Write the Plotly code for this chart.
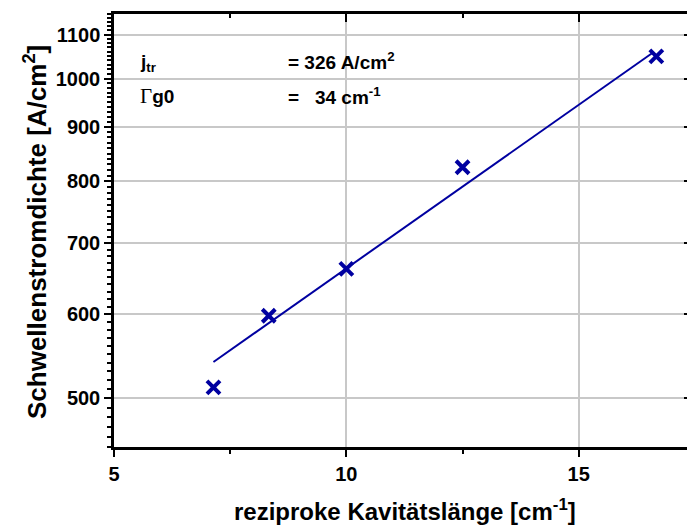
import plotly.graph_objects as go
import math

# data
x_meas = [7.14, 8.33, 10.0, 12.5, 16.67]
y_meas = [512, 598, 662, 825, 1049]
fit_x = [7.14, 16.6]
fit_y = [541, 1058]
y_ticks = [500, 600, 700, 800, 900, 1000, 1100]
y_minor = list(range(450, 1151, 10))
x_ticks = [5, 10, 15]
x_minor = [7.5, 12.5, 17.5]

BLUE = "#0000a0"
FONT = "Liberation Sans, Arial, sans-serif"

fig = go.Figure()
fig.add_trace(go.Scatter(x=fit_x, y=fit_y, mode="lines",
                         line=dict(color=BLUE, width=2), showlegend=False, hoverinfo="skip"))
fig.add_trace(go.Scatter(x=x_meas, y=y_meas, mode="markers",
                         marker=dict(symbol="x-thin", size=13, line=dict(color=BLUE, width=4)),
                         showlegend=False))
# dummy trace for mirrored axes
fig.add_trace(go.Scatter(x=[x_meas[0]], y=[y_meas[0]], xaxis="x2", yaxis="y2",
                         mode="markers", marker=dict(opacity=0), showlegend=False, hoverinfo="skip"))

xr = [5, 17.33]
yr = [math.log10(450), math.log10(1150)]

fig.update_layout(
    width=687, height=525,
    margin=dict(l=114, r=0, t=14, b=78, autoexpand=False),
    paper_bgcolor="white", plot_bgcolor="white",
    font=dict(family=FONT, color="black"),
    xaxis=dict(range=xr, tickvals=x_ticks, ticktext=["<b>%d</b>" % v for v in x_ticks],
               automargin=False,
               showgrid=True, gridcolor="#c8c8c8", gridwidth=1.5,
               showline=True, linecolor="black", linewidth=2.5,
               ticks="outside", ticklen=7, tickwidth=2, tickcolor="black",
               tickfont=dict(size=20, family=FONT),
               minor=dict(tickmode="array", tickvals=x_minor, ticks="outside",
                          ticklen=4, tickwidth=2, tickcolor="black", showgrid=False),
               zeroline=False),
    yaxis=dict(type="log", range=yr, tickvals=y_ticks,
               ticktext=["<b>%d</b>" % v for v in y_ticks],
               automargin=False,
               showgrid=True, gridcolor="#c8c8c8", gridwidth=1.5,
               showline=True, linecolor="black", linewidth=2.5,
               ticks="outside", ticklen=7, tickwidth=2, tickcolor="black",
               tickfont=dict(size=20, family=FONT),
               minor=dict(tickmode="array", tickvals=y_minor, ticks="outside",
                          ticklen=4, tickwidth=1.5, tickcolor="black", showgrid=False),
               zeroline=False),
    xaxis2=dict(overlaying="x", side="top", range=xr, tickvals=x_ticks,
                automargin=False,
                showticklabels=False, showgrid=False,
                showline=True, linecolor="black", linewidth=2.5,
                ticks="inside", ticklen=8, tickwidth=2, tickcolor="black",
                minor=dict(tickmode="array", tickvals=x_minor, ticks="inside",
                           ticklen=4, tickwidth=2, tickcolor="black"),
                zeroline=False),
    yaxis2=dict(overlaying="y", side="right", type="log", range=yr, tickvals=y_ticks,
                automargin=False,
                showticklabels=False, showgrid=False, showline=False,
                ticks="inside", ticklen=3, tickwidth=2, tickcolor="black",
                zeroline=False),
)

def px_x(px):
    return (px - 114) / 573.0

def px_y(py):
    return (447 - py) / 433.0

annots = [
    dict(text="<b>j<sub>tr</sub></b>", x=px_x(138), y=px_y(63)),
    dict(text="<b>= 326 A/cm<sup>2</sup></b>", x=px_x(286), y=px_y(61)),
    dict(text="<span style='font-family:Liberation Serif, Times New Roman, serif;font-size:21px'>Γ</span><b>g0</b>",
         x=px_x(138), y=px_y(96)),
    dict(text="<b>=   34 cm<sup>-1</sup></b>", x=px_x(286), y=px_y(96)),
]
for a in annots:
    fig.add_annotation(text=a["text"], x=a["x"], y=a["y"], xref="paper", yref="paper",
                       xanchor="left", yanchor="middle", showarrow=False,
                       font=dict(size=19, family=FONT, color="black"))

fig.add_annotation(text="<b>reziproke Kavitätslänge [cm<sup>-1</sup>]</b>",
                   x=px_x(405), y=px_y(510), xref="paper", yref="paper",
                   xanchor="center", yanchor="middle", showarrow=False,
                   font=dict(size=24, family=FONT, color="black"))
fig.add_annotation(text="<b>Schwellenstromdichte [A/cm<sup>2</sup>]</b>",
                   x=px_x(35), y=px_y(232), xref="paper", yref="paper",
                   xanchor="center", yanchor="middle", showarrow=False, textangle=-90,
                   font=dict(size=26, family=FONT, color="black"))

fig.write_html("out.html", config={"displayModeBar": False},
               post_script="document.body.style.margin='0';document.body.style.overflow='hidden';")
